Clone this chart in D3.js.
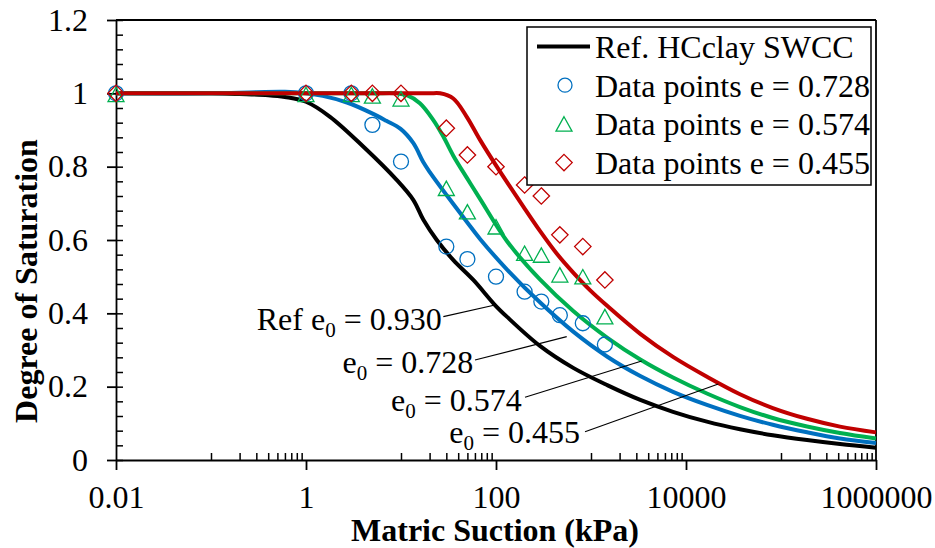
<!DOCTYPE html>
<html>
<head>
<meta charset="utf-8">
<script src="https://cdn.jsdelivr.net/npm/d3@7"></script>
<style>
  html, body { margin: 0; padding: 0; background: #fff; }
  svg { display: block; }
</style>
</head>
<body>
<svg id="chart" width="935" height="548"></svg>
<script>
// ---------------- DATA ----------------
// Fitted SWCC curves: [matric suction (kPa), degree of saturation]
const curveRef = [[0.01,1.0],[0.1,1.0],[0.2,0.998],[0.4,0.995],[0.6,0.99],[1,0.977],[1.79,0.936],[4.0,0.855],[9.0,0.764],[13.5,0.709],[17.2,0.655],[23.8,0.6],[35.6,0.545],[57.7,0.491],[97.6,0.4227],[130,0.391],[290,0.3112],[650,0.2512],[1500,0.2035],[3300,0.1639],[7300,0.1315],[16600,0.1045],[37000,0.0838],[82000,0.0676],[188000,0.0543],[418000,0.0434],[1000000,0.0335]];
const curveE0728 = [[0.01,1.0],[0.1,1.0],[0.3,1.003],[0.6,1.004],[1,1.0],[1.5,0.993],[2.7,0.975],[4.9,0.946],[7,0.925],[9.9,0.903],[13.5,0.864],[17.2,0.812],[20,0.786],[30.3,0.722],[49.2,0.65],[67.9,0.603],[130,0.52],[290,0.43],[650,0.35],[1500,0.281],[3300,0.229],[7300,0.186],[16600,0.1503],[37000,0.1205],[82000,0.096],[188000,0.0755],[418000,0.0586],[1000000,0.0464]];
const curveE0574 = [[0.01,1.0],[1,1.0],[5,1.0],[9,1.0],[11.5,0.995],[15.8,0.973],[21.9,0.927],[27.9,0.882],[35.5,0.83],[49.2,0.77],[67.9,0.712],[130,0.5973],[290,0.4923],[650,0.4064],[1500,0.3327],[3300,0.2741],[7300,0.225],[16600,0.1814],[37000,0.1445],[82000,0.1145],[188000,0.0914],[418000,0.0736],[1000000,0.0586]];
const curveE0455 = [[0.01,1.0],[1,1.0],[10,1.0],[20,1.0],[25.8,1.0],[35.5,0.986],[49.2,0.936],[67.9,0.873],[102,0.8],[194,0.691],[290,0.6248],[435,0.5632],[650,0.5111],[975,0.4634],[1500,0.4192],[3300,0.3442],[7300,0.2812],[16600,0.2272],[37000,0.1795],[82000,0.1418],[188000,0.1124],[418000,0.0911],[1000000,0.0753]];

// Measured data points
const dataSuction = [0.01, 1, 3, 5, 10, 30, 50, 100, 200, 300, 470, 820, 1400];
const satE0728 = [1.0, 1.0, 1.0, 0.914, 0.814, 0.582, 0.548, 0.5, 0.459, 0.432, 0.395, 0.373, 0.315];
const satE0574 = [0.997, 0.997, 0.997, 0.993, 0.985, 0.741, 0.677, 0.636, 0.564, 0.559, 0.505, 0.5, 0.391];
const satE0455 = [1.0, 1.0, 1.0, 1.0, 1.0, 0.905, 0.832, 0.8, 0.75, 0.72, 0.614, 0.582, 0.491];

// Axis ticks
const xMajorTicks = [0.01, 1, 100, 10000, 1000000];
const xTickLabels = ["0.01", "1", "100", "10000", "1000000"];
const yMajorTicks = [0, 0.2, 0.4, 0.6, 0.8, 1.0, 1.2];
const yTickLabels = ["0", "0.2", "0.4", "0.6", "0.8", "1", "1.2"];

// Legend entries
const legendLabels = ["Ref. HCclay SWCC", "Data points e = 0.728", "Data points e = 0.574", "Data points e = 0.455"];

// Curve annotations (label pieces, text end, leader start, leader end in data coords)
const annotations = [
  {pre: "Ref e", sub: "0", post: " = 0.930", textAt: [26.8, 0.3545], from: [27.9, 0.3908], to: [97.6, 0.4227]},
  {pre: "e", sub: "0", post: " = 0.728", textAt: [57.7, 0.2365], from: [60.1, 0.2727], to: [555, 0.3363]},
  {pre: "e", sub: "0", post: " = 0.574", textAt: [186.4, 0.1345], from: [202, 0.171], to: [3418, 0.27]},
  {pre: "e", sub: "0", post: " = 0.455", textAt: [766, 0.0455], from: [865, 0.0772], to: [21880, 0.2073]}
];

// ---------------- STYLE ----------------
const FONT = "'Liberation Serif', 'Times New Roman', Times, serif";
const FS = 32;
const BLACK = "#000000", BLUE = "#0070C0", GREEN = "#00B050", RED = "#C00000";

const svg = d3.select("#chart");
const x = d3.scaleLog().domain([0.01, 1e6]).range([116, 876]);
const y = d3.scaleLinear().domain([0, 1.2]).range([460, 20]);

// minor ticks: within each 2-decade major interval, multiples of the middle decade
const xMinor = [];
for (let a = -2; a < 6; a += 2) {
  for (let k = 1; k <= 9; k++) xMinor.push(k * Math.pow(10, a + 1));
}
const yMinor = d3.range(0, 1.2001, 0.04).map(v => +v.toFixed(2));

// Plot frame (top and right)
svg.append("line").attr("x1", x(0.01)).attr("x2", x(1e6)).attr("y1", y(1.2)).attr("y2", y(1.2))
  .attr("stroke", BLACK).attr("stroke-width", 1.8);
svg.append("line").attr("x1", x(1e6)).attr("x2", x(1e6)).attr("y1", y(1.2)).attr("y2", y(0))
  .attr("stroke", BLACK).attr("stroke-width", 1.8);

// X axis minor (inward)
svg.append("g").attr("transform", `translate(0,${y(0)})`)
  .call(d3.axisBottom(x).tickValues(xMinor).tickSize(-7).tickSizeOuter(0).tickFormat(""))
  .call(g => g.select(".domain").remove())
  .call(g => g.selectAll("line").attr("stroke", BLACK).attr("stroke-width", 1.5));
// X axis major
svg.append("g").attr("transform", `translate(0,${y(0)})`)
  .call(d3.axisBottom(x).tickValues(xMajorTicks).tickSize(10).tickSizeOuter(0).tickPadding(15)
    .tickFormat((d, i) => xTickLabels[i]))
  .call(g => g.select(".domain").attr("stroke", BLACK).attr("stroke-width", 1.8))
  .call(g => g.selectAll("line").attr("stroke", BLACK).attr("stroke-width", 1.8))
  .call(g => g.selectAll("text").attr("font-family", FONT).attr("font-size", FS).attr("fill", BLACK));

// Y axis minor (inward)
svg.append("g").attr("transform", `translate(${x(0.01)},0)`)
  .call(d3.axisLeft(y).tickValues(yMinor).tickSize(-7).tickSizeOuter(0).tickFormat(""))
  .call(g => g.select(".domain").remove())
  .call(g => g.selectAll("line").attr("stroke", BLACK).attr("stroke-width", 1.5));
// Y axis major
svg.append("g").attr("transform", `translate(${x(0.01)},0)`)
  .call(d3.axisLeft(y).tickValues(yMajorTicks).tickSize(9).tickSizeOuter(0).tickPadding(19)
    .tickFormat((d, i) => yTickLabels[i]))
  .call(g => g.select(".domain").attr("stroke", BLACK).attr("stroke-width", 1.8))
  .call(g => g.selectAll("line").attr("stroke", BLACK).attr("stroke-width", 1.8))
  .call(g => g.selectAll("text").attr("font-family", FONT).attr("font-size", FS).attr("fill", BLACK));

// Axis titles
svg.append("text").attr("x", 495).attr("y", 541).attr("text-anchor", "middle")
  .attr("font-family", FONT).attr("font-size", FS).attr("font-weight", "bold")
  .text("Matric Suction (kPa)");
svg.append("text").attr("transform", "translate(37,281) rotate(-90)").attr("text-anchor", "middle")
  .attr("font-family", FONT).attr("font-size", FS).attr("font-weight", "bold")
  .text("Degree of Saturation");

// Curves
const line = d3.line().x(d => x(d[0])).y(d => y(d[1])).curve(d3.curveCatmullRom.alpha(0.5));
[[curveRef, BLACK], [curveE0728, BLUE], [curveE0574, GREEN], [curveE0455, RED]].forEach(([c, col]) => {
  svg.append("path").datum(c).attr("d", line).attr("fill", "none")
    .attr("stroke", col).attr("stroke-width", 4).attr("stroke-linejoin", "round");
});

// Marker shapes
const triPath = "M0,-7.2L8,7.2L-8,7.2Z";
const diaPath = "M0,-8.2L8.2,0L0,8.2L-8.2,0Z";

// Data points
svg.append("g").selectAll("circle").data(dataSuction.map((s, i) => [s, satE0728[i]])).join("circle")
  .attr("cx", d => x(d[0])).attr("cy", d => y(d[1])).attr("r", 7.5)
  .attr("fill", "none").attr("stroke", BLUE).attr("stroke-width", 1.3);
svg.append("g").selectAll("path").data(dataSuction.map((s, i) => [s, satE0574[i]])).join("path")
  .attr("transform", d => `translate(${x(d[0])},${y(d[1])})`).attr("d", triPath)
  .attr("fill", "none").attr("stroke", GREEN).attr("stroke-width", 1.3);
svg.append("g").selectAll("path").data(dataSuction.map((s, i) => [s, satE0455[i]])).join("path")
  .attr("transform", d => `translate(${x(d[0])},${y(d[1])})`).attr("d", diaPath)
  .attr("fill", "none").attr("stroke", RED).attr("stroke-width", 1.3);

// Annotations
annotations.forEach(a => {
  svg.append("line")
    .attr("x1", x(a.from[0])).attr("y1", y(a.from[1]))
    .attr("x2", x(a.to[0])).attr("y2", y(a.to[1]))
    .attr("stroke", BLACK).attr("stroke-width", 1.2);
  const t = svg.append("text").attr("x", x(a.textAt[0])).attr("y", y(a.textAt[1]))
    .attr("text-anchor", "end").attr("font-family", FONT).attr("font-size", FS).attr("fill", BLACK);
  t.append("tspan").text(a.pre);
  t.append("tspan").attr("font-size", 21).attr("dy", 7).text(a.sub);
  t.append("tspan").attr("dy", -7).text(a.post);
});

// Legend
const lg = svg.append("g");
lg.append("rect").attr("x", 527).attr("y", 27).attr("width", 344).attr("height", 158)
  .attr("fill", "#fff").attr("stroke", BLACK).attr("stroke-width", 1.5);
legendLabels.forEach((lab, i) => {
  const base = 58 + i * 38.7;
  const cy = base - 11.5;
  if (i === 0) {
    lg.append("line").attr("x1", 537).attr("x2", 590).attr("y1", cy).attr("y2", cy)
      .attr("stroke", BLACK).attr("stroke-width", 4);
  } else if (i === 1) {
    lg.append("circle").attr("cx", 565).attr("cy", cy).attr("r", 7)
      .attr("fill", "none").attr("stroke", BLUE).attr("stroke-width", 1.3);
  } else if (i === 2) {
    lg.append("path").attr("transform", `translate(564,${cy})`).attr("d", triPath)
      .attr("fill", "none").attr("stroke", GREEN).attr("stroke-width", 1.3);
  } else {
    lg.append("path").attr("transform", `translate(564,${cy})`).attr("d", diaPath)
      .attr("fill", "none").attr("stroke", RED).attr("stroke-width", 1.3);
  }
  lg.append("text").attr("x", 595).attr("y", base).attr("font-family", FONT).attr("font-size", FS)
    .attr("fill", BLACK).text(lab);
});
</script>
</body>
</html>
